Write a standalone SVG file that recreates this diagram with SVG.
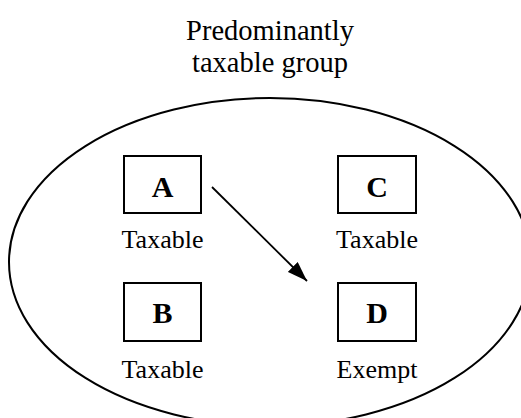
<svg xmlns="http://www.w3.org/2000/svg" width="521" height="418" viewBox="0 0 521 418">
<defs>
<style>
.t{font-family:"Liberation Serif","Times New Roman",serif;font-size:26px;fill:#000;text-anchor:middle}
.title{font-size:28.5px}
.l{font-family:"Liberation Serif","Times New Roman",serif;font-size:30px;font-weight:bold;fill:#000;text-anchor:middle}
.box{fill:#fff;stroke:#000;stroke-width:2}
</style>
<marker id="ah" markerWidth="20" markerHeight="14" refX="20" refY="7" orient="auto" markerUnits="userSpaceOnUse" viewBox="0 0 20 14">
<path d="M0,0 L20,7 L0,14 Z" fill="#000"/>
</marker>
</defs>
<rect width="521" height="418" fill="#fff"/>
<g id="group">
<ellipse cx="270" cy="262" rx="261" ry="164" fill="none" stroke="#000" stroke-width="2"/>
<text class="t title" x="270" y="40">Predominantly</text>
<text class="t title" x="270" y="72">taxable group</text>
</g>
<g id="connectors">
<line x1="212" y1="187" x2="307" y2="281" stroke="#000" stroke-width="1.8" marker-end="url(#ah)"/>
</g>
<g id="nodeA">
<rect class="box" x="124" y="156" width="77" height="57"/>
<text class="l" x="162.5" y="197">A</text>
<text class="t" x="162.5" y="248">Taxable</text>
</g>
<g id="nodeC">
<rect class="box" x="338" y="156" width="78" height="57"/>
<text class="l" x="377" y="197">C</text>
<text class="t" x="377" y="248">Taxable</text>
</g>
<g id="nodeB">
<rect class="box" x="124" y="283" width="77" height="58"/>
<text class="l" x="162.5" y="323">B</text>
<text class="t" x="162.5" y="378">Taxable</text>
</g>
<g id="nodeD">
<rect class="box" x="338" y="283" width="78" height="58"/>
<text class="l" x="377" y="323">D</text>
<text class="t" x="377" y="378">Exempt</text>
</g>
</svg>
